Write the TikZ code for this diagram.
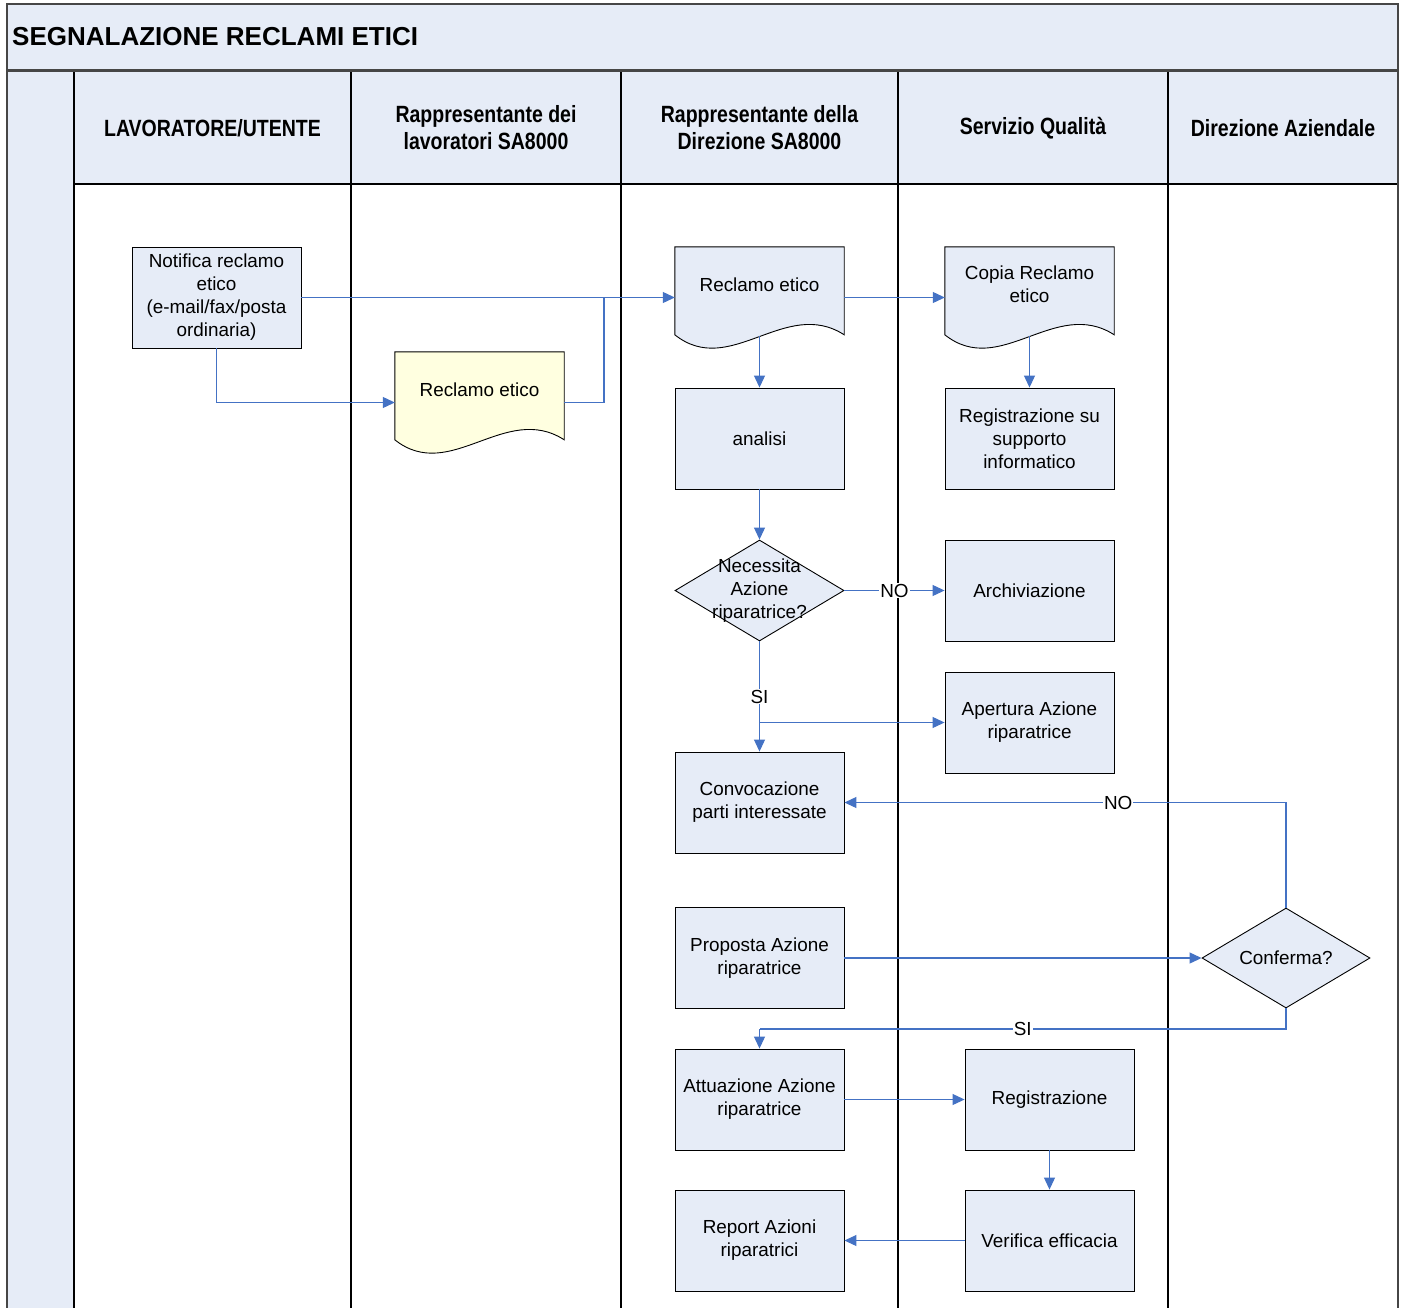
\documentclass[tikz,border=0pt]{standalone}
\usepackage{fontspec}
\setmainfont{Liberation Sans}
\newfontfamily\hdrfont{Liberation Sans}[FakeStretch=0.83]
\usetikzlibrary{shapes.geometric,arrows.meta,calc}
\definecolor{lblue}{RGB}{230,236,247}
\definecolor{lyellow}{RGB}{255,255,224}
\definecolor{cblue}{RGB}{68,114,196}
\definecolor{framegray}{RGB}{70,70,70}
\pgfdeclarelayer{bg}\pgfdeclarelayer{shp}\pgfsetlayers{bg,shp,main}
\tikzset{
 bodyfont/.style={font=\fontsize{18.9}{23}\selectfont},
 procbox/.style={rectangle,draw=black,line width=0.9pt,fill=lblue,minimum width=169pt,minimum height=101pt,inner sep=0pt,align=center,bodyfont},
 docbox/.style={rectangle,draw=none,minimum width=169pt,minimum height=101pt,inner sep=0pt},
 decbox/.style={diamond,draw=black,line width=0.9pt,fill=lblue,minimum width=169pt,minimum height=101pt,inner sep=0pt},
 txt/.style={align=center,inner sep=0pt,bodyfont},
 conn/.style={draw=cblue,line width=1.1pt,-{Triangle[length=12pt,width=11pt]}},
 connplain/.style={draw=cblue,line width=1.1pt},
 lbl/.style={fill=white,inner sep=1pt,bodyfont},
 hdr/.style={align=center,inner sep=0pt,font=\hdrfont\bfseries\fontsize{23.5}{27}\selectfont},
 laneline/.style={black,line width=1.5pt},
}
\newcommand\docpath[2]{\begin{pgfonlayer}{shp}\draw[line width=0.9pt,fill=#2] (#1.north west) -- (#1.north east) -- ($(#1.north east)+(0,88)$) .. controls ($(#1.north east)+(-59,50)$) and ($(#1.north east)+(-114,132)$) .. ($(#1.north west)+(0,88)$) -- cycle;\end{pgfonlayer}}
\begin{document}
\begin{tikzpicture}[x=1pt,y=-1pt]
\useasboundingbox (0,0) rectangle (1402,1308);
% background / lanes
\begin{pgfonlayer}{bg}
\fill[lblue] (7,4) rectangle (1398,1308);
\fill[white] (74,184) rectangle (1398,1308);
\draw[laneline] (74,184) -- (1398,184);
\foreach \xx in {74,351,621,898,1168} \draw[laneline] (\xx,72) -- (\xx,1308);
\draw[framegray,line width=3pt] (7,70.5) -- (1398,70.5);
\draw[framegray,line width=2.2pt] (7,1308) -- (7,4) -- (1398,4) -- (1398,1308);
\end{pgfonlayer}
% title and headers
\node[anchor=west,inner sep=0pt,font=\bfseries\fontsize{26}{30}\selectfont] (title) at (12,37) {SEGNALAZIONE RECLAMI ETICI};
\node[hdr] (h1) at (212.5,128) {LAVORATORE/UTENTE};
\node[hdr] (h2) at (486,128) {Rappresentante dei\\lavoratori SA8000};
\node[hdr] (h3) at (759.5,128) {Rappresentante della\\Direzione SA8000};
\node[hdr] (h4) at (1033,128) {Servizio Qualità};
\node[hdr] (h5) at (1283,128) {Direzione Aziendale};
% nodes
\node[procbox] (notif) at (216.5,297.5) {Notifica reclamo\\etico\\(e-mail/fax/posta\\ordinaria)};
\node[docbox] (rec1) at (479.5,402.5) {};
\docpath{rec1}{lyellow}
\node[txt] (rec1t) at ($(rec1.center)+(0,-13)$) {Reclamo etico};
\node[docbox] (rec2) at (759.5,297.5) {};
\docpath{rec2}{lblue}
\node[txt] (rec2t) at ($(rec2.center)+(0,-13)$) {Reclamo etico};
\node[docbox] (copia) at (1029.5,297.5) {};
\docpath{copia}{lblue}
\node[txt] (copiat) at ($(copia.center)+(0,-13)$) {Copia Reclamo\\etico};
\node[procbox] (analisi) at (759.5,438.5) {analisi};
\node[procbox] (regsup) at (1029.5,438.5) {Registrazione su\\supporto\\informatico};
\node[decbox] (dec1) at (759.5,590.5) {};
\node[txt] (dec1t) at (dec1.center) {Necessita\\Azione\\riparatrice?};
\node[procbox] (arch) at (1029.5,590.5) {Archiviazione};
\node[procbox] (apert) at (1029.5,722.5) {Apertura Azione\\riparatrice};
\node[procbox] (conv) at (759.5,802.5) {Convocazione\\parti interessate};
\node[procbox] (prop) at (759.5,958) {Proposta Azione\\riparatrice};
\node[decbox,minimum width=168pt,minimum height=100pt] (conf) at (1286,958) {};
\node[txt] (conft) at (conf.center) {Conferma?};
\node[procbox] (attu) at (759.5,1099.5) {Attuazione Azione\\riparatrice};
\node[procbox] (reg) at (1049.5,1099.5) {Registrazione};
\node[procbox] (rep) at (759.5,1240.5) {Report Azioni\\riparatrici};
\node[procbox] (verif) at (1049.5,1240.5) {Verifica efficacia};
% helper coordinates
\coordinate (j1) at (604,297.5);
\coordinate (rec2b) at ($(rec2.north)+(0,89)$);
\coordinate (copiab) at ($(copia.north)+(0,89)$);
\coordinate (br1) at (759.5,722.5);
\coordinate (c1) at (1286,1029);
\coordinate (c2) at (759.5,1029);
% connectors
\draw[conn] (notif.east) -- (rec2.west);
\draw[conn] (notif.south) |- (rec1.west);
\draw[connplain] (rec1.east) -| (j1);
\draw[conn] (rec2.east) -- (copia.west);
\draw[conn] (rec2b) -- (analisi.north);
\draw[conn] (copiab) -- (regsup.north);
\draw[conn] (analisi.south) -- (dec1.north);
\draw[conn] (dec1.east) -- node[lbl] (lno1) {NO} (arch.west);
\draw[conn] (dec1.south) -- node[lbl] (lsi1) {SI} (conv.north);
\draw[conn] (br1) -- (apert.west);
\draw[conn] (conf.north) |- node[lbl,pos=0.69] (lno2) {NO} (conv.east);
\draw[conn] (prop.east) -- (conf.west);
\draw[connplain] (conf.south) -- (c1) -- node[lbl] (lsi2) {SI} (c2);
\draw[conn] (c2) -- (attu.north);
\draw[conn] (attu.east) -- (reg.west);
\draw[conn] (reg.south) -- (verif.north);
\draw[conn] (verif.west) -- (rep.east);
\end{tikzpicture}
\end{document}
